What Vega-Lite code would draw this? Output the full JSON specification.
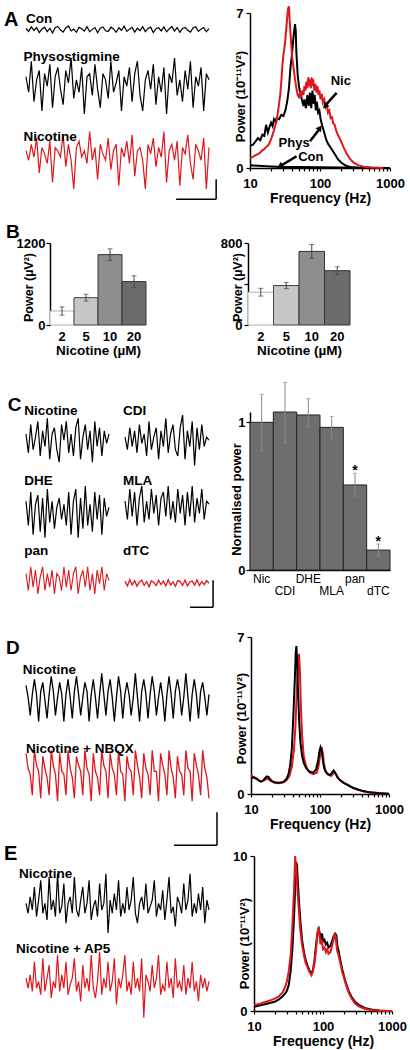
{
"$schema":"https://vega.github.io/schema/vega-lite/v6.json",
"background":"white",
"autosize":{"type":"pad"},
"padding":{"left":3,"top":2,"right":2,"bottom":2},
"config":{
 "view":{"stroke":null},
 "font":"Liberation Sans",
 "text":{"font":"Liberation Sans","color":"#000"},
 "axis":{"domainColor":"#000","domainWidth":1.5,"tickColor":"#000","tickWidth":1.2,"labelColor":"#000","titleColor":"#000","labelFont":"Liberation Sans","titleFont":"Liberation Sans","labelFontWeight":"bold","titleFontWeight":"bold","labelFontSize":13,"titleFontSize":13,"grid":false,"labelOverlap":false}
},
"datasets":{
"tr":[
{"s":"a0","i":0,"v":0.5},{"s":"a0","i":1,"v":-0.8},{"s":"a0","i":2,"v":1.2},{"s":"a0","i":3,"v":-0.4},{"s":"a0","i":4,"v":0.9},{"s":"a0","i":5,"v":-1.3},{"s":"a0","i":6,"v":0.3},{"s":"a0","i":7,"v":1.1},{"s":"a0","i":8,"v":-0.9},{"s":"a0","i":9,"v":0.6},
{"s":"a0","i":10,"v":-1.5},{"s":"a0","i":11,"v":0.8},{"s":"a0","i":12,"v":1.4},{"s":"a0","i":13,"v":-0.2},{"s":"a0","i":14,"v":-1.1},{"s":"a0","i":15,"v":0.7},{"s":"a0","i":16,"v":1.6},{"s":"a0","i":17,"v":-0.6},{"s":"a0","i":18,"v":0.2},{"s":"a0","i":19,"v":-1.2},
{"s":"a0","i":20,"v":1.0},{"s":"a0","i":21,"v":0.4},{"s":"a0","i":22,"v":-0.7},{"s":"a0","i":23,"v":1.3},{"s":"a0","i":24,"v":-1.0},{"s":"a0","i":25,"v":0.1},{"s":"a0","i":26,"v":0.9},{"s":"a0","i":27,"v":-1.4},{"s":"a0","i":28,"v":0.6},{"s":"a0","i":29,"v":1.2},
{"s":"a0","i":30,"v":-0.5},{"s":"a0","i":31,"v":-0.9},{"s":"a0","i":32,"v":1.1},{"s":"a0","i":33,"v":0.3},{"s":"a0","i":34,"v":-1.2},{"s":"a0","i":35,"v":0.8},{"s":"a0","i":36,"v":-0.3},{"s":"a0","i":37,"v":1.5},{"s":"a0","i":38,"v":-0.8},{"s":"a0","i":39,"v":0.2},
{"s":"a0","i":40,"v":1.0},{"s":"a0","i":41,"v":-1.1},{"s":"a0","i":42,"v":0.6},{"s":"a0","i":43,"v":-0.4},{"s":"a0","i":44,"v":1.3},{"s":"a0","i":45,"v":-0.9},{"s":"a0","i":46,"v":0.5},{"s":"a0","i":47,"v":1.1},{"s":"a0","i":48,"v":-1.3},{"s":"a0","i":49,"v":0.4},
{"s":"a0","i":50,"v":0.8},{"s":"a0","i":51,"v":-0.6},{"s":"a0","i":52,"v":1.2},{"s":"a0","i":53,"v":-1.0},{"s":"a0","i":54,"v":0.3},{"s":"a0","i":55,"v":1.4},{"s":"a0","i":56,"v":-0.7},{"s":"a0","i":57,"v":0.9},{"s":"a0","i":58,"v":-1.2},{"s":"a0","i":59,"v":0.5},
{"s":"a0","i":60,"v":1.0},{"s":"a0","i":61,"v":-0.3},{"s":"a0","i":62,"v":-1.1},{"s":"a0","i":63,"v":0.7},{"s":"a0","i":64,"v":1.3},{"s":"a0","i":65,"v":-0.8},{"s":"a0","i":66,"v":0.2},{"s":"a0","i":67,"v":0.9},{"s":"a0","i":68,"v":-1.0},{"s":"a0","i":69,"v":0.4},
{"s":"a1","i":0,"v":2},{"s":"a1","i":1,"v":-3},{"s":"a1","i":2,"v":7},{"s":"a1","i":3,"v":-6},{"s":"a1","i":4,"v":1},{"s":"a1","i":5,"v":4},{"s":"a1","i":6,"v":-9},{"s":"a1","i":7,"v":3},{"s":"a1","i":8,"v":-1},{"s":"a1","i":9,"v":6},
{"s":"a1","i":10,"v":-8},{"s":"a1","i":11,"v":2},{"s":"a1","i":12,"v":5},{"s":"a1","i":13,"v":-2},{"s":"a1","i":14,"v":-7},{"s":"a1","i":15,"v":4},{"s":"a1","i":16,"v":0},{"s":"a1","i":17,"v":8},{"s":"a1","i":18,"v":-5},{"s":"a1","i":19,"v":1},
{"s":"a1","i":20,"v":-3},{"s":"a1","i":21,"v":5},{"s":"a1","i":22,"v":-10},{"s":"a1","i":23,"v":2},{"s":"a1","i":24,"v":3},{"s":"a1","i":25,"v":-4},{"s":"a1","i":26,"v":6},{"s":"a1","i":27,"v":-2},{"s":"a1","i":28,"v":-8},{"s":"a1","i":29,"v":3},
{"s":"a1","i":30,"v":1},{"s":"a1","i":31,"v":-5},{"s":"a1","i":32,"v":7},{"s":"a1","i":33,"v":-3},{"s":"a1","i":34,"v":0},{"s":"a1","i":35,"v":4},{"s":"a1","i":36,"v":-9},{"s":"a1","i":37,"v":2},{"s":"a1","i":38,"v":-1},{"s":"a1","i":39,"v":5},
{"s":"a1","i":40,"v":-6},{"s":"a1","i":41,"v":3},{"s":"a1","i":42,"v":7},{"s":"a1","i":43,"v":-4},{"s":"a1","i":44,"v":-9},{"s":"a1","i":45,"v":1},{"s":"a1","i":46,"v":4},{"s":"a1","i":47,"v":-2},{"s":"a1","i":48,"v":6},{"s":"a1","i":49,"v":-7},
{"s":"a1","i":50,"v":2},{"s":"a1","i":51,"v":-3},{"s":"a1","i":52,"v":5},{"s":"a1","i":53,"v":-10},{"s":"a1","i":54,"v":3},{"s":"a1","i":55,"v":0},{"s":"a1","i":56,"v":8},{"s":"a1","i":57,"v":-4},{"s":"a1","i":58,"v":1},{"s":"a1","i":59,"v":-6},
{"s":"a1","i":60,"v":4},{"s":"a1","i":61,"v":-2},{"s":"a1","i":62,"v":7},{"s":"a1","i":63,"v":-8},{"s":"a1","i":64,"v":2},{"s":"a1","i":65,"v":-1},{"s":"a1","i":66,"v":5},{"s":"a1","i":67,"v":-9},{"s":"a1","i":68,"v":3},{"s":"a1","i":69,"v":1},
{"s":"a2","i":0,"v":1},{"s":"a2","i":1,"v":-2},{"s":"a2","i":2,"v":3},{"s":"a2","i":3,"v":-1},{"s":"a2","i":4,"v":5},{"s":"a2","i":5,"v":-6},{"s":"a2","i":6,"v":2},{"s":"a2","i":7,"v":0},{"s":"a2","i":8,"v":-3},{"s":"a2","i":9,"v":4},
{"s":"a2","i":10,"v":-9},{"s":"a2","i":11,"v":2},{"s":"a2","i":12,"v":1},{"s":"a2","i":13,"v":-1},{"s":"a2","i":14,"v":6},{"s":"a2","i":15,"v":-4},{"s":"a2","i":16,"v":3},{"s":"a2","i":17,"v":-2},{"s":"a2","i":18,"v":-11},{"s":"a2","i":19,"v":2},
{"s":"a2","i":20,"v":4},{"s":"a2","i":21,"v":-1},{"s":"a2","i":22,"v":1},{"s":"a2","i":23,"v":-3},{"s":"a2","i":24,"v":7},{"s":"a2","i":25,"v":-2},{"s":"a2","i":26,"v":2},{"s":"a2","i":27,"v":-8},{"s":"a2","i":28,"v":3},{"s":"a2","i":29,"v":0},
{"s":"a2","i":30,"v":-2},{"s":"a2","i":31,"v":5},{"s":"a2","i":32,"v":-5},{"s":"a2","i":33,"v":1},{"s":"a2","i":34,"v":3},{"s":"a2","i":35,"v":-10},{"s":"a2","i":36,"v":2},{"s":"a2","i":37,"v":-1},{"s":"a2","i":38,"v":4},{"s":"a2","i":39,"v":-3},
{"s":"a2","i":40,"v":6},{"s":"a2","i":41,"v":-7},{"s":"a2","i":42,"v":1},{"s":"a2","i":43,"v":2},{"s":"a2","i":44,"v":-2},{"s":"a2","i":45,"v":-11},{"s":"a2","i":46,"v":3},{"s":"a2","i":47,"v":0},{"s":"a2","i":48,"v":5},{"s":"a2","i":49,"v":-4},
{"s":"a2","i":50,"v":2},{"s":"a2","i":51,"v":-1},{"s":"a2","i":52,"v":7},{"s":"a2","i":53,"v":-9},{"s":"a2","i":54,"v":1},{"s":"a2","i":55,"v":3},{"s":"a2","i":56,"v":-2},{"s":"a2","i":57,"v":4},{"s":"a2","i":58,"v":-10},{"s":"a2","i":59,"v":2},
{"s":"a2","i":60,"v":0},{"s":"a2","i":61,"v":6},{"s":"a2","i":62,"v":-3},{"s":"a2","i":63,"v":-8},{"s":"a2","i":64,"v":3},{"s":"a2","i":65,"v":1},{"s":"a2","i":66,"v":-2},{"s":"a2","i":67,"v":5},{"s":"a2","i":68,"v":-11},{"s":"a2","i":69,"v":2},
{"s":"c0","i":0,"v":2},{"s":"c0","i":1,"v":-4},{"s":"c0","i":2,"v":5},{"s":"c0","i":3,"v":-3},{"s":"c0","i":4,"v":1},{"s":"c0","i":5,"v":6},{"s":"c0","i":6,"v":-5},{"s":"c0","i":7,"v":3},{"s":"c0","i":8,"v":-2},{"s":"c0","i":9,"v":7},
{"s":"c0","i":10,"v":-6},{"s":"c0","i":11,"v":2},{"s":"c0","i":12,"v":4},{"s":"c0","i":13,"v":-3},{"s":"c0","i":14,"v":-7},{"s":"c0","i":15,"v":5},{"s":"c0","i":16,"v":0},{"s":"c0","i":17,"v":6},{"s":"c0","i":18,"v":-4},{"s":"c0","i":19,"v":2},
{"s":"c0","i":20,"v":-5},{"s":"c0","i":21,"v":4},{"s":"c0","i":22,"v":7},{"s":"c0","i":23,"v":-6},{"s":"c0","i":24,"v":1},{"s":"c0","i":25,"v":5},{"s":"c0","i":26,"v":-3},{"s":"c0","i":27,"v":3},{"s":"c0","i":28,"v":-7},{"s":"c0","i":29,"v":6},
{"s":"c0","i":30,"v":-2},{"s":"c0","i":31,"v":4},{"s":"c0","i":32,"v":-5},{"s":"c0","i":33,"v":3},{"s":"c0","i":34,"v":-1},{"s":"c0","i":35,"v":2},
{"s":"c1","i":0,"v":1},{"s":"c1","i":1,"v":-3},{"s":"c1","i":2,"v":4},{"s":"c1","i":3,"v":-2},{"s":"c1","i":4,"v":3},{"s":"c1","i":5,"v":-4},{"s":"c1","i":6,"v":5},{"s":"c1","i":7,"v":-1},{"s":"c1","i":8,"v":2},{"s":"c1","i":9,"v":-5},
{"s":"c1","i":10,"v":6},{"s":"c1","i":11,"v":-3},{"s":"c1","i":12,"v":1},{"s":"c1","i":13,"v":4},{"s":"c1","i":14,"v":-6},{"s":"c1","i":15,"v":3},{"s":"c1","i":16,"v":-2},{"s":"c1","i":17,"v":7},{"s":"c1","i":18,"v":-4},{"s":"c1","i":19,"v":2},
{"s":"c1","i":20,"v":5},{"s":"c1","i":21,"v":-3},{"s":"c1","i":22,"v":-5},{"s":"c1","i":23,"v":4},{"s":"c1","i":24,"v":8},{"s":"c1","i":25,"v":-6},{"s":"c1","i":26,"v":3},{"s":"c1","i":27,"v":-2},{"s":"c1","i":28,"v":6},{"s":"c1","i":29,"v":-8},
{"s":"c1","i":30,"v":4},{"s":"c1","i":31,"v":-3},{"s":"c1","i":32,"v":5},{"s":"c1","i":33,"v":-2},{"s":"c1","i":34,"v":1},{"s":"c1","i":35,"v":0},
{"s":"c2","i":0,"v":3},{"s":"c2","i":1,"v":-5},{"s":"c2","i":2,"v":6},{"s":"c2","i":3,"v":-8},{"s":"c2","i":4,"v":2},{"s":"c2","i":5,"v":5},{"s":"c2","i":6,"v":-7},{"s":"c2","i":7,"v":4},{"s":"c2","i":8,"v":-9},{"s":"c2","i":9,"v":7},
{"s":"c2","i":10,"v":-4},{"s":"c2","i":11,"v":3},{"s":"c2","i":12,"v":-6},{"s":"c2","i":13,"v":1},{"s":"c2","i":14,"v":4},{"s":"c2","i":15,"v":-3},{"s":"c2","i":16,"v":2},{"s":"c2","i":17,"v":-5},{"s":"c2","i":18,"v":6},{"s":"c2","i":19,"v":-8},
{"s":"c2","i":20,"v":3},{"s":"c2","i":21,"v":7},{"s":"c2","i":22,"v":-9},{"s":"c2","i":23,"v":4},{"s":"c2","i":24,"v":-6},{"s":"c2","i":25,"v":8},{"s":"c2","i":26,"v":-5},{"s":"c2","i":27,"v":2},{"s":"c2","i":28,"v":-7},{"s":"c2","i":29,"v":6},
{"s":"c2","i":30,"v":-3},{"s":"c2","i":31,"v":5},{"s":"c2","i":32,"v":-8},{"s":"c2","i":33,"v":4},{"s":"c2","i":34,"v":-2},{"s":"c2","i":35,"v":1},
{"s":"c3","i":0,"v":2},{"s":"c3","i":1,"v":-4},{"s":"c3","i":2,"v":6},{"s":"c3","i":3,"v":-3},{"s":"c3","i":4,"v":5},{"s":"c3","i":5,"v":-6},{"s":"c3","i":6,"v":3},{"s":"c3","i":7,"v":7},{"s":"c3","i":8,"v":-5},{"s":"c3","i":9,"v":2},
{"s":"c3","i":10,"v":-4},{"s":"c3","i":11,"v":6},{"s":"c3","i":12,"v":-2},{"s":"c3","i":13,"v":4},{"s":"c3","i":14,"v":-6},{"s":"c3","i":15,"v":3},{"s":"c3","i":16,"v":5},{"s":"c3","i":17,"v":-3},{"s":"c3","i":18,"v":7},{"s":"c3","i":19,"v":-4},
{"s":"c3","i":20,"v":2},{"s":"c3","i":21,"v":-5},{"s":"c3","i":22,"v":6},{"s":"c3","i":23,"v":-2},{"s":"c3","i":24,"v":4},{"s":"c3","i":25,"v":-6},{"s":"c3","i":26,"v":5},{"s":"c3","i":27,"v":-3},{"s":"c3","i":28,"v":7},{"s":"c3","i":29,"v":-5},
{"s":"c3","i":30,"v":3},{"s":"c3","i":31,"v":-2},{"s":"c3","i":32,"v":6},{"s":"c3","i":33,"v":-4},{"s":"c3","i":34,"v":2},{"s":"c3","i":35,"v":1},
{"s":"c4","i":0,"v":2},{"s":"c4","i":1,"v":-3},{"s":"c4","i":2,"v":4},{"s":"c4","i":3,"v":-2},{"s":"c4","i":4,"v":3},{"s":"c4","i":5,"v":-4},{"s":"c4","i":6,"v":1},{"s":"c4","i":7,"v":4},{"s":"c4","i":8,"v":-3},{"s":"c4","i":9,"v":2},
{"s":"c4","i":10,"v":-2},{"s":"c4","i":11,"v":3},{"s":"c4","i":12,"v":-4},{"s":"c4","i":13,"v":2},{"s":"c4","i":14,"v":1},{"s":"c4","i":15,"v":-3},{"s":"c4","i":16,"v":4},{"s":"c4","i":17,"v":-2},{"s":"c4","i":18,"v":3},{"s":"c4","i":19,"v":-3},
{"s":"c4","i":20,"v":2},{"s":"c4","i":21,"v":4},{"s":"c4","i":22,"v":-4},{"s":"c4","i":23,"v":1},{"s":"c4","i":24,"v":3},{"s":"c4","i":25,"v":-2},{"s":"c4","i":26,"v":4},{"s":"c4","i":27,"v":-3},{"s":"c4","i":28,"v":2},{"s":"c4","i":29,"v":-4},
{"s":"c4","i":30,"v":3},{"s":"c4","i":31,"v":-1},{"s":"c4","i":32,"v":4},{"s":"c4","i":33,"v":-3},{"s":"c4","i":34,"v":2},{"s":"c4","i":35,"v":0},
{"s":"c5","i":0,"v":0.5},{"s":"c5","i":1,"v":-0.6},{"s":"c5","i":2,"v":0.8},{"s":"c5","i":3,"v":-0.4},{"s":"c5","i":4,"v":0.6},{"s":"c5","i":5,"v":-0.7},{"s":"c5","i":6,"v":0.3},{"s":"c5","i":7,"v":0.7},{"s":"c5","i":8,"v":-0.5},{"s":"c5","i":9,"v":0.4},
{"s":"c5","i":10,"v":-0.8},{"s":"c5","i":11,"v":0.6},{"s":"c5","i":12,"v":0.2},{"s":"c5","i":13,"v":-0.5},{"s":"c5","i":14,"v":0.7},{"s":"c5","i":15,"v":-0.3},{"s":"c5","i":16,"v":0.5},{"s":"c5","i":17,"v":-0.6},{"s":"c5","i":18,"v":0.8},{"s":"c5","i":19,"v":-0.4},
{"s":"c5","i":20,"v":0.3},{"s":"c5","i":21,"v":-0.7},{"s":"c5","i":22,"v":0.6},{"s":"c5","i":23,"v":0.4},{"s":"c5","i":24,"v":-0.5},{"s":"c5","i":25,"v":0.7},{"s":"c5","i":26,"v":-0.6},{"s":"c5","i":27,"v":0.3},{"s":"c5","i":28,"v":0.5},{"s":"c5","i":29,"v":-0.4},
{"s":"c5","i":30,"v":0.8},{"s":"c5","i":31,"v":-0.5},{"s":"c5","i":32,"v":0.4},{"s":"c5","i":33,"v":-0.3},{"s":"c5","i":34,"v":0.6},{"s":"c5","i":35,"v":0},
{"s":"d0","i":0,"v":4},{"s":"d0","i":1,"v":0},{"s":"d0","i":2,"v":-6},{"s":"d0","i":3,"v":1},{"s":"d0","i":4,"v":6},{"s":"d0","i":5,"v":1},{"s":"d0","i":6,"v":-8},{"s":"d0","i":7,"v":2},{"s":"d0","i":8,"v":5},{"s":"d0","i":9,"v":-1},
{"s":"d0","i":10,"v":-7},{"s":"d0","i":11,"v":1},{"s":"d0","i":12,"v":7},{"s":"d0","i":13,"v":2},{"s":"d0","i":14,"v":-6},{"s":"d0","i":15,"v":0},{"s":"d0","i":16,"v":5},{"s":"d0","i":17,"v":1},{"s":"d0","i":18,"v":-8},{"s":"d0","i":19,"v":1},
{"s":"d0","i":20,"v":6},{"s":"d0","i":21,"v":0},{"s":"d0","i":22,"v":-7},{"s":"d0","i":23,"v":2},{"s":"d0","i":24,"v":7},{"s":"d0","i":25,"v":1},{"s":"d0","i":26,"v":-6},{"s":"d0","i":27,"v":0},{"s":"d0","i":28,"v":5},{"s":"d0","i":29,"v":2},
{"s":"d0","i":30,"v":-8},{"s":"d0","i":31,"v":1},{"s":"d0","i":32,"v":6},{"s":"d0","i":33,"v":0},{"s":"d0","i":34,"v":-7},{"s":"d0","i":35,"v":1},{"s":"d0","i":36,"v":8},{"s":"d0","i":37,"v":1},{"s":"d0","i":38,"v":-6},{"s":"d0","i":39,"v":2},
{"s":"d0","i":40,"v":6},{"s":"d0","i":41,"v":0},{"s":"d0","i":42,"v":-8},{"s":"d0","i":43,"v":0},{"s":"d0","i":44,"v":7},{"s":"d0","i":45,"v":2},{"s":"d0","i":46,"v":-7},{"s":"d0","i":47,"v":1},{"s":"d0","i":48,"v":5},{"s":"d0","i":49,"v":1},
{"s":"d0","i":50,"v":-6},{"s":"d0","i":51,"v":0},{"s":"d0","i":52,"v":8},{"s":"d0","i":53,"v":0},{"s":"d0","i":54,"v":-8},{"s":"d0","i":55,"v":2},{"s":"d0","i":56,"v":6},{"s":"d0","i":57,"v":1},{"s":"d0","i":58,"v":-7},{"s":"d0","i":59,"v":1},
{"s":"d0","i":60,"v":7},{"s":"d0","i":61,"v":2},{"s":"d0","i":62,"v":-6},{"s":"d0","i":63,"v":0},{"s":"d0","i":64,"v":5},{"s":"d0","i":65,"v":0},{"s":"d0","i":66,"v":-8},{"s":"d0","i":67,"v":1},{"s":"d0","i":68,"v":7},{"s":"d0","i":69,"v":1},
{"s":"d0","i":70,"v":-7},{"s":"d0","i":71,"v":2},{"s":"d0","i":72,"v":6},{"s":"d0","i":73,"v":2},{"s":"d0","i":74,"v":-6},{"s":"d0","i":75,"v":0},{"s":"d0","i":76,"v":8},{"s":"d0","i":77,"v":0},{"s":"d0","i":78,"v":-8},{"s":"d0","i":79,"v":1},
{"s":"d0","i":80,"v":6},{"s":"d0","i":81,"v":1},{"s":"d0","i":82,"v":-7},{"s":"d0","i":83,"v":2},{"s":"d0","i":84,"v":5},{"s":"d0","i":85,"v":0},{"s":"d0","i":86,"v":-6},{"s":"d0","i":87,"v":1},
{"s":"d1","i":0,"v":7},{"s":"d1","i":1,"v":2},{"s":"d1","i":2,"v":0},{"s":"d1","i":3,"v":-7},{"s":"d1","i":4,"v":8},{"s":"d1","i":5,"v":3},{"s":"d1","i":6,"v":1},{"s":"d1","i":7,"v":-8},{"s":"d1","i":8,"v":6},{"s":"d1","i":9,"v":2},
{"s":"d1","i":10,"v":-1},{"s":"d1","i":11,"v":-7},{"s":"d1","i":12,"v":8},{"s":"d1","i":13,"v":3},{"s":"d1","i":14,"v":0},{"s":"d1","i":15,"v":-9},{"s":"d1","i":16,"v":7},{"s":"d1","i":17,"v":1},{"s":"d1","i":18,"v":0},{"s":"d1","i":19,"v":-7},
{"s":"d1","i":20,"v":8},{"s":"d1","i":21,"v":2},{"s":"d1","i":22,"v":-1},{"s":"d1","i":23,"v":-8},{"s":"d1","i":24,"v":6},{"s":"d1","i":25,"v":3},{"s":"d1","i":26,"v":1},{"s":"d1","i":27,"v":-7},{"s":"d1","i":28,"v":8},{"s":"d1","i":29,"v":2},
{"s":"d1","i":30,"v":0},{"s":"d1","i":31,"v":-9},{"s":"d1","i":32,"v":7},{"s":"d1","i":33,"v":1},{"s":"d1","i":34,"v":-1},{"s":"d1","i":35,"v":-7},{"s":"d1","i":36,"v":8},{"s":"d1","i":37,"v":3},{"s":"d1","i":38,"v":1},{"s":"d1","i":39,"v":-8},
{"s":"d1","i":40,"v":7},{"s":"d1","i":41,"v":2},{"s":"d1","i":42,"v":0},{"s":"d1","i":43,"v":-7},{"s":"d1","i":44,"v":8},{"s":"d1","i":45,"v":1},{"s":"d1","i":46,"v":0},{"s":"d1","i":47,"v":-9},{"s":"d1","i":48,"v":6},{"s":"d1","i":49,"v":2},
{"s":"d1","i":50,"v":1},{"s":"d1","i":51,"v":-7},{"s":"d1","i":52,"v":8},{"s":"d1","i":53,"v":3},{"s":"d1","i":54,"v":-1},{"s":"d1","i":55,"v":-8},{"s":"d1","i":56,"v":7},{"s":"d1","i":57,"v":2},{"s":"d1","i":58,"v":0},{"s":"d1","i":59,"v":-7},
{"s":"d1","i":60,"v":8},{"s":"d1","i":61,"v":1},{"s":"d1","i":62,"v":1},{"s":"d1","i":63,"v":-9},{"s":"d1","i":64,"v":7},{"s":"d1","i":65,"v":3},{"s":"d1","i":66,"v":0},{"s":"d1","i":67,"v":-7},{"s":"d1","i":68,"v":8},{"s":"d1","i":69,"v":2},
{"s":"d1","i":70,"v":-1},{"s":"d1","i":71,"v":-8},{"s":"d1","i":72,"v":6},{"s":"d1","i":73,"v":1},{"s":"d1","i":74,"v":0},{"s":"d1","i":75,"v":-7},{"s":"d1","i":76,"v":8},{"s":"d1","i":77,"v":2},{"s":"d1","i":78,"v":1},{"s":"d1","i":79,"v":-9},
{"s":"d1","i":80,"v":7},{"s":"d1","i":81,"v":3},{"s":"d1","i":82,"v":0},{"s":"d1","i":83,"v":-7},{"s":"d1","i":84,"v":8},{"s":"d1","i":85,"v":2},{"s":"d1","i":86,"v":-1},{"s":"d1","i":87,"v":-8},
{"s":"e0","i":0,"v":1},{"s":"e0","i":1,"v":-2},{"s":"e0","i":2,"v":3},{"s":"e0","i":3,"v":-1},{"s":"e0","i":4,"v":6},{"s":"e0","i":5,"v":-3},{"s":"e0","i":6,"v":2},{"s":"e0","i":7,"v":8},{"s":"e0","i":8,"v":-2},{"s":"e0","i":9,"v":1},
{"s":"e0","i":10,"v":-4},{"s":"e0","i":11,"v":9},{"s":"e0","i":12,"v":-1},{"s":"e0","i":13,"v":2},{"s":"e0","i":14,"v":-3},{"s":"e0","i":15,"v":10},{"s":"e0","i":16,"v":-2},{"s":"e0","i":17,"v":0},{"s":"e0","i":18,"v":7},{"s":"e0","i":19,"v":-5},
{"s":"e0","i":20,"v":1},{"s":"e0","i":21,"v":3},{"s":"e0","i":22,"v":-2},{"s":"e0","i":23,"v":9},{"s":"e0","i":24,"v":-1},{"s":"e0","i":25,"v":-3},{"s":"e0","i":26,"v":2},{"s":"e0","i":27,"v":6},{"s":"e0","i":28,"v":-2},{"s":"e0","i":29,"v":1},
{"s":"e0","i":30,"v":8},{"s":"e0","i":31,"v":-4},{"s":"e0","i":32,"v":0},{"s":"e0","i":33,"v":2},{"s":"e0","i":34,"v":-3},{"s":"e0","i":35,"v":7},{"s":"e0","i":36,"v":-1},{"s":"e0","i":37,"v":1},{"s":"e0","i":38,"v":10},{"s":"e0","i":39,"v":-8},
{"s":"e0","i":40,"v":2},{"s":"e0","i":41,"v":-2},{"s":"e0","i":42,"v":4},{"s":"e0","i":43,"v":-1},{"s":"e0","i":44,"v":8},{"s":"e0","i":45,"v":-3},{"s":"e0","i":46,"v":1},{"s":"e0","i":47,"v":-2},{"s":"e0","i":48,"v":6},{"s":"e0","i":49,"v":-1},
{"s":"e0","i":50,"v":2},{"s":"e0","i":51,"v":9},{"s":"e0","i":52,"v":-2},{"s":"e0","i":53,"v":-5},{"s":"e0","i":54,"v":1},{"s":"e0","i":55,"v":3},{"s":"e0","i":56,"v":-1},{"s":"e0","i":57,"v":7},{"s":"e0","i":58,"v":-2},{"s":"e0","i":59,"v":0},
{"s":"e0","i":60,"v":2},{"s":"e0","i":61,"v":8},{"s":"e0","i":62,"v":-3},{"s":"e0","i":63,"v":1},{"s":"e0","i":64,"v":-1},{"s":"e0","i":65,"v":5},{"s":"e0","i":66,"v":-4},{"s":"e0","i":67,"v":2},{"s":"e0","i":68,"v":9},{"s":"e0","i":69,"v":-2},
{"s":"e0","i":70,"v":0},{"s":"e0","i":71,"v":-6},{"s":"e0","i":72,"v":3},{"s":"e0","i":73,"v":1},{"s":"e0","i":74,"v":-2},{"s":"e0","i":75,"v":7},{"s":"e0","i":76,"v":-1},{"s":"e0","i":77,"v":2},{"s":"e0","i":78,"v":10},{"s":"e0","i":79,"v":-3},
{"s":"e0","i":80,"v":1},{"s":"e0","i":81,"v":-2},{"s":"e0","i":82,"v":4},{"s":"e0","i":83,"v":-1},{"s":"e0","i":84,"v":6},{"s":"e0","i":85,"v":-5},{"s":"e0","i":86,"v":2},{"s":"e0","i":87,"v":-1},
{"s":"e1","i":0,"v":2},{"s":"e1","i":1,"v":-1},{"s":"e1","i":2,"v":3},{"s":"e1","i":3,"v":-2},{"s":"e1","i":4,"v":7},{"s":"e1","i":5,"v":-1},{"s":"e1","i":6,"v":1},{"s":"e1","i":7,"v":-3},{"s":"e1","i":8,"v":8},{"s":"e1","i":9,"v":-2},
{"s":"e1","i":10,"v":2},{"s":"e1","i":11,"v":6},{"s":"e1","i":12,"v":-4},{"s":"e1","i":13,"v":1},{"s":"e1","i":14,"v":-1},{"s":"e1","i":15,"v":9},{"s":"e1","i":16,"v":-2},{"s":"e1","i":17,"v":3},{"s":"e1","i":18,"v":-1},{"s":"e1","i":19,"v":7},
{"s":"e1","i":20,"v":-3},{"s":"e1","i":21,"v":0},{"s":"e1","i":22,"v":2},{"s":"e1","i":23,"v":8},{"s":"e1","i":24,"v":-2},{"s":"e1","i":25,"v":1},{"s":"e1","i":26,"v":-5},{"s":"e1","i":27,"v":6},{"s":"e1","i":28,"v":-1},{"s":"e1","i":29,"v":2},
{"s":"e1","i":30,"v":-2},{"s":"e1","i":31,"v":9},{"s":"e1","i":32,"v":-1},{"s":"e1","i":33,"v":-4},{"s":"e1","i":34,"v":1},{"s":"e1","i":35,"v":10},{"s":"e1","i":36,"v":-3},{"s":"e1","i":37,"v":2},{"s":"e1","i":38,"v":-1},{"s":"e1","i":39,"v":7},
{"s":"e1","i":40,"v":-2},{"s":"e1","i":41,"v":1},{"s":"e1","i":42,"v":8},{"s":"e1","i":43,"v":-6},{"s":"e1","i":44,"v":2},{"s":"e1","i":45,"v":-1},{"s":"e1","i":46,"v":3},{"s":"e1","i":47,"v":9},{"s":"e1","i":48,"v":-2},{"s":"e1","i":49,"v":1},
{"s":"e1","i":50,"v":-3},{"s":"e1","i":51,"v":7},{"s":"e1","i":52,"v":-1},{"s":"e1","i":53,"v":2},{"s":"e1","i":54,"v":-2},{"s":"e1","i":55,"v":8},{"s":"e1","i":56,"v":-10},{"s":"e1","i":57,"v":3},{"s":"e1","i":58,"v":1},{"s":"e1","i":59,"v":-2},
{"s":"e1","i":60,"v":6},{"s":"e1","i":61,"v":-1},{"s":"e1","i":62,"v":2},{"s":"e1","i":63,"v":9},{"s":"e1","i":64,"v":-3},{"s":"e1","i":65,"v":0},{"s":"e1","i":66,"v":-2},{"s":"e1","i":67,"v":7},{"s":"e1","i":68,"v":-1},{"s":"e1","i":69,"v":2},
{"s":"e1","i":70,"v":-4},{"s":"e1","i":71,"v":8},{"s":"e1","i":72,"v":-1},{"s":"e1","i":73,"v":1},{"s":"e1","i":74,"v":-2},{"s":"e1","i":75,"v":6},{"s":"e1","i":76,"v":-3},{"s":"e1","i":77,"v":2},{"s":"e1","i":78,"v":-1},{"s":"e1","i":79,"v":7},
{"s":"e1","i":80,"v":-2},{"s":"e1","i":81,"v":1},{"s":"e1","i":82,"v":-5},{"s":"e1","i":83,"v":3},{"s":"e1","i":84,"v":-1},{"s":"e1","i":85,"v":2},{"s":"e1","i":86,"v":-2},{"s":"e1","i":87,"v":1}
],
"sp":[
{"s":"ac","f":10,"p":0.12},{"s":"ac","f":13,"p":0.1},{"s":"ac","f":20,"p":0.07},{"s":"ac","f":30,"p":0.05},{"s":"ac","f":50,"p":0.04},{"s":"ac","f":100,"p":0.03},{"s":"ac","f":200,"p":0.02},{"s":"ac","f":400,"p":0.01},{"s":"ac","f":1000,"p":0},
{"s":"ap","f":10,"p":1.0},{"s":"ap","f":11,"p":1.05},{"s":"ap","f":12,"p":1.2},{"s":"ap","f":13,"p":1.35},{"s":"ap","f":14,"p":1.25},{"s":"ap","f":15,"p":1.5},{"s":"ap","f":16,"p":1.45},{"s":"ap","f":17,"p":1.95},{"s":"ap","f":18,"p":1.6},{"s":"ap","f":19,"p":1.85},
{"s":"ap","f":20,"p":2.05},{"s":"ap","f":21,"p":1.9},{"s":"ap","f":22,"p":2.2},{"s":"ap","f":23,"p":2.1},{"s":"ap","f":24,"p":2.25},{"s":"ap","f":26,"p":2.2},{"s":"ap","f":28,"p":2.4},{"s":"ap","f":30,"p":2.35},{"s":"ap","f":32,"p":2.6},{"s":"ap","f":34,"p":3.0},
{"s":"ap","f":36,"p":3.6},{"s":"ap","f":38,"p":4.6},{"s":"ap","f":40,"p":5.2},{"s":"ap","f":42,"p":6.0},{"s":"ap","f":44,"p":6.5},{"s":"ap","f":45,"p":6.2},{"s":"ap","f":46,"p":5.2},{"s":"ap","f":48,"p":4.2},{"s":"ap","f":50,"p":3.7},{"s":"ap","f":52,"p":3.4},
{"s":"ap","f":55,"p":3.1},{"s":"ap","f":58,"p":2.8},{"s":"ap","f":60,"p":3.1},{"s":"ap","f":63,"p":2.7},{"s":"ap","f":66,"p":3.3},{"s":"ap","f":69,"p":2.8},{"s":"ap","f":72,"p":3.4},{"s":"ap","f":75,"p":2.7},{"s":"ap","f":78,"p":3.5},{"s":"ap","f":81,"p":2.9},
{"s":"ap","f":84,"p":3.3},{"s":"ap","f":87,"p":2.6},{"s":"ap","f":90,"p":3.0},{"s":"ap","f":94,"p":2.5},{"s":"ap","f":98,"p":2.6},{"s":"ap","f":102,"p":2.2},{"s":"ap","f":108,"p":1.9},{"s":"ap","f":115,"p":1.6},{"s":"ap","f":122,"p":1.3},{"s":"ap","f":130,"p":1.1},
{"s":"ap","f":140,"p":0.95},{"s":"ap","f":150,"p":0.8},{"s":"ap","f":165,"p":0.6},{"s":"ap","f":180,"p":0.4},{"s":"ap","f":200,"p":0.25},{"s":"ap","f":230,"p":0.12},{"s":"ap","f":270,"p":0.05},{"s":"ap","f":350,"p":0.01},{"s":"ap","f":500,"p":0},
{"s":"an","f":10,"p":0.45},{"s":"an","f":11,"p":0.5},{"s":"an","f":12,"p":0.58},{"s":"an","f":13,"p":0.63},{"s":"an","f":14,"p":0.7},{"s":"an","f":15,"p":0.8},{"s":"an","f":16,"p":0.85},{"s":"an","f":17,"p":0.95},{"s":"an","f":18,"p":1.0},{"s":"an","f":19,"p":1.13},
{"s":"an","f":20,"p":1.3},{"s":"an","f":21,"p":1.5},{"s":"an","f":22,"p":1.7},{"s":"an","f":23,"p":1.95},{"s":"an","f":24,"p":2.1},{"s":"an","f":25,"p":2.5},{"s":"an","f":26,"p":2.9},{"s":"an","f":27,"p":3.3},{"s":"an","f":28,"p":3.9},{"s":"an","f":29,"p":4.6},
{"s":"an","f":30,"p":5.1},{"s":"an","f":31,"p":5.4},{"s":"an","f":32,"p":5.8},{"s":"an","f":33,"p":6.3},{"s":"an","f":34,"p":6.8},{"s":"an","f":35,"p":7.2},{"s":"an","f":36,"p":7.3},{"s":"an","f":37,"p":6.6},{"s":"an","f":38,"p":6.0},{"s":"an","f":39,"p":5.5},
{"s":"an","f":40,"p":5.0},{"s":"an","f":42,"p":4.5},{"s":"an","f":44,"p":4.0},{"s":"an","f":46,"p":3.6},{"s":"an","f":48,"p":3.3},{"s":"an","f":50,"p":3.2},{"s":"an","f":52,"p":3.4},{"s":"an","f":54,"p":3.2},{"s":"an","f":56,"p":3.5},{"s":"an","f":58,"p":3.3},
{"s":"an","f":60,"p":3.7},{"s":"an","f":62,"p":3.5},{"s":"an","f":64,"p":3.9},{"s":"an","f":66,"p":3.6},{"s":"an","f":68,"p":4.1},{"s":"an","f":70,"p":3.7},{"s":"an","f":72,"p":4.0},{"s":"an","f":74,"p":3.6},{"s":"an","f":76,"p":4.1},{"s":"an","f":78,"p":3.7},
{"s":"an","f":80,"p":4.0},{"s":"an","f":83,"p":3.5},{"s":"an","f":86,"p":3.8},{"s":"an","f":89,"p":3.4},{"s":"an","f":92,"p":3.7},{"s":"an","f":95,"p":3.3},{"s":"an","f":98,"p":3.5},{"s":"an","f":102,"p":3.1},{"s":"an","f":106,"p":3.35},{"s":"an","f":110,"p":2.95},
{"s":"an","f":115,"p":3.1},{"s":"an","f":120,"p":2.75},{"s":"an","f":125,"p":2.9},{"s":"an","f":130,"p":2.5},{"s":"an","f":136,"p":2.6},{"s":"an","f":142,"p":2.25},{"s":"an","f":148,"p":2.3},{"s":"an","f":155,"p":2.0},{"s":"an","f":162,"p":1.95},{"s":"an","f":170,"p":1.7},
{"s":"an","f":180,"p":1.5},{"s":"an","f":190,"p":1.35},{"s":"an","f":200,"p":1.2},{"s":"an","f":220,"p":0.9},{"s":"an","f":240,"p":0.65},{"s":"an","f":270,"p":0.4},{"s":"an","f":300,"p":0.25},{"s":"an","f":350,"p":0.13},{"s":"an","f":420,"p":0.06},{"s":"an","f":550,"p":0.02},{"s":"an","f":800,"p":0},
{"s":"dn","f":10,"p":0.7},{"s":"dn","f":11,"p":0.75},{"s":"dn","f":12,"p":0.7},{"s":"dn","f":13,"p":0.6},{"s":"dn","f":14,"p":0.55},{"s":"dn","f":15,"p":0.6},{"s":"dn","f":16,"p":0.7},{"s":"dn","f":17,"p":0.78},{"s":"dn","f":18,"p":0.75},{"s":"dn","f":19,"p":0.65},
{"s":"dn","f":20,"p":0.58},{"s":"dn","f":22,"p":0.52},{"s":"dn","f":25,"p":0.5},{"s":"dn","f":28,"p":0.52},{"s":"dn","f":30,"p":0.55},{"s":"dn","f":33,"p":0.7},{"s":"dn","f":35,"p":0.9},{"s":"dn","f":37,"p":1.3},{"s":"dn","f":39,"p":2.0},{"s":"dn","f":41,"p":3.4},
{"s":"dn","f":43,"p":5.0},{"s":"dn","f":44.5,"p":6.3},{"s":"dn","f":45.5,"p":6.6},{"s":"dn","f":46.5,"p":6.0},{"s":"dn","f":48,"p":4.6},{"s":"dn","f":50,"p":3.2},{"s":"dn","f":52,"p":2.3},{"s":"dn","f":55,"p":1.7},{"s":"dn","f":58,"p":1.4},{"s":"dn","f":63,"p":1.15},
{"s":"dn","f":70,"p":1.0},{"s":"dn","f":80,"p":0.95},{"s":"dn","f":88,"p":1.1},{"s":"dn","f":94,"p":1.5},{"s":"dn","f":98,"p":1.9},{"s":"dn","f":102,"p":2.1},{"s":"dn","f":105,"p":2.0},{"s":"dn","f":109,"p":1.6},{"s":"dn","f":114,"p":1.2},{"s":"dn","f":120,"p":1.0},
{"s":"dn","f":130,"p":0.88},{"s":"dn","f":140,"p":0.85},{"s":"dn","f":150,"p":0.95},{"s":"dn","f":158,"p":1.05},{"s":"dn","f":166,"p":0.95},{"s":"dn","f":178,"p":0.75},{"s":"dn","f":195,"p":0.62},{"s":"dn","f":220,"p":0.5},{"s":"dn","f":260,"p":0.38},{"s":"dn","f":300,"p":0.28},
{"s":"dn","f":400,"p":0.15},{"s":"dn","f":500,"p":0.09},{"s":"dn","f":700,"p":0.04},{"s":"dn","f":1000,"p":0.01},
{"s":"dq","f":10,"p":0.85},{"s":"dq","f":11,"p":0.72},{"s":"dq","f":12,"p":0.66},{"s":"dq","f":14,"p":0.55},{"s":"dq","f":16,"p":0.63},{"s":"dq","f":17,"p":0.7},{"s":"dq","f":19,"p":0.6},{"s":"dq","f":22,"p":0.5},{"s":"dq","f":25,"p":0.48},{"s":"dq","f":28,"p":0.5},
{"s":"dq","f":30,"p":0.53},{"s":"dq","f":33,"p":0.62},{"s":"dq","f":36,"p":0.8},{"s":"dq","f":39,"p":1.2},{"s":"dq","f":42,"p":2.0},{"s":"dq","f":44,"p":3.0},{"s":"dq","f":46,"p":4.5},{"s":"dq","f":48,"p":5.8},{"s":"dq","f":49.5,"p":6.25},{"s":"dq","f":51,"p":5.6},
{"s":"dq","f":53,"p":3.8},{"s":"dq","f":55,"p":2.6},{"s":"dq","f":58,"p":1.7},{"s":"dq","f":62,"p":1.3},{"s":"dq","f":66,"p":1.1},{"s":"dq","f":72,"p":0.95},{"s":"dq","f":80,"p":0.88},{"s":"dq","f":90,"p":0.95},{"s":"dq","f":96,"p":1.3},{"s":"dq","f":100,"p":1.7},
{"s":"dq","f":104,"p":1.95},{"s":"dq","f":107,"p":2.0},{"s":"dq","f":110,"p":1.8},{"s":"dq","f":114,"p":1.35},{"s":"dq","f":120,"p":1.05},{"s":"dq","f":130,"p":0.88},{"s":"dq","f":145,"p":0.8},{"s":"dq","f":155,"p":0.9},{"s":"dq","f":163,"p":0.97},{"s":"dq","f":172,"p":0.88},
{"s":"dq","f":186,"p":0.68},{"s":"dq","f":205,"p":0.56},{"s":"dq","f":235,"p":0.45},{"s":"dq","f":270,"p":0.34},{"s":"dq","f":330,"p":0.22},{"s":"dq","f":430,"p":0.11},{"s":"dq","f":550,"p":0.06},{"s":"dq","f":750,"p":0.02},{"s":"dq","f":1000,"p":0.01},
{"s":"en","f":10,"p":0.28},{"s":"en","f":12,"p":0.35},{"s":"en","f":15,"p":0.45},{"s":"en","f":18,"p":0.55},{"s":"en","f":20,"p":0.6},{"s":"en","f":23,"p":0.75},{"s":"en","f":26,"p":0.95},{"s":"en","f":28,"p":1.1},{"s":"en","f":30,"p":1.3},{"s":"en","f":32,"p":1.7},
{"s":"en","f":34,"p":2.6},{"s":"en","f":36,"p":4.0},{"s":"en","f":38,"p":6.0},{"s":"en","f":40,"p":8.5},{"s":"en","f":41,"p":9.6},{"s":"en","f":42,"p":9.4},{"s":"en","f":43,"p":8.5},{"s":"en","f":45,"p":7.0},{"s":"en","f":47,"p":5.8},{"s":"en","f":50,"p":4.5},
{"s":"en","f":53,"p":3.8},{"s":"en","f":56,"p":3.3},{"s":"en","f":60,"p":2.9},{"s":"en","f":64,"p":2.6},{"s":"en","f":68,"p":2.4},{"s":"en","f":71,"p":2.6},{"s":"en","f":75,"p":3.2},{"s":"en","f":79,"p":4.2},{"s":"en","f":83,"p":5.0},{"s":"en","f":87,"p":5.3},
{"s":"en","f":90,"p":5.0},{"s":"en","f":94,"p":4.6},{"s":"en","f":97,"p":5.0},{"s":"en","f":100,"p":4.5},{"s":"en","f":105,"p":4.6},{"s":"en","f":110,"p":4.3},{"s":"en","f":115,"p":4.4},{"s":"en","f":120,"p":4.1},{"s":"en","f":128,"p":4.2},{"s":"en","f":135,"p":4.5},
{"s":"en","f":142,"p":4.8},{"s":"en","f":150,"p":5.0},{"s":"en","f":156,"p":4.9},{"s":"en","f":162,"p":4.2},{"s":"en","f":170,"p":3.8},{"s":"en","f":178,"p":3.3},{"s":"en","f":190,"p":2.7},{"s":"en","f":200,"p":2.3},{"s":"en","f":215,"p":1.8},{"s":"en","f":235,"p":1.3},
{"s":"en","f":260,"p":0.9},{"s":"en","f":290,"p":0.6},{"s":"en","f":330,"p":0.4},{"s":"en","f":400,"p":0.2},{"s":"en","f":500,"p":0.1},{"s":"en","f":650,"p":0.04},{"s":"en","f":800,"p":0.01},{"s":"en","f":1000,"p":0},
{"s":"eq","f":10,"p":0.4},{"s":"eq","f":12,"p":0.45},{"s":"eq","f":15,"p":0.6},{"s":"eq","f":18,"p":0.72},{"s":"eq","f":20,"p":0.8},{"s":"eq","f":23,"p":0.95},{"s":"eq","f":26,"p":1.2},{"s":"eq","f":28,"p":1.5},{"s":"eq","f":30,"p":1.9},{"s":"eq","f":32,"p":2.6},
{"s":"eq","f":34,"p":3.6},{"s":"eq","f":36,"p":5.5},{"s":"eq","f":38,"p":7.8},{"s":"eq","f":39.5,"p":10.0},{"s":"eq","f":41,"p":9.0},{"s":"eq","f":43,"p":7.6},{"s":"eq","f":45,"p":6.3},{"s":"eq","f":47,"p":5.2},{"s":"eq","f":50,"p":4.2},{"s":"eq","f":53,"p":3.6},
{"s":"eq","f":56,"p":3.1},{"s":"eq","f":60,"p":2.8},{"s":"eq","f":64,"p":2.5},{"s":"eq","f":68,"p":2.3},{"s":"eq","f":71,"p":2.5},{"s":"eq","f":75,"p":3.0},{"s":"eq","f":79,"p":3.9},{"s":"eq","f":83,"p":5.0},{"s":"eq","f":86,"p":5.4},{"s":"eq","f":89,"p":4.9},
{"s":"eq","f":92,"p":4.3},{"s":"eq","f":96,"p":4.6},{"s":"eq","f":100,"p":4.0},{"s":"eq","f":105,"p":4.1},{"s":"eq","f":110,"p":3.8},{"s":"eq","f":115,"p":4.0},{"s":"eq","f":120,"p":3.7},{"s":"eq","f":128,"p":3.8},{"s":"eq","f":135,"p":4.2},{"s":"eq","f":142,"p":4.6},
{"s":"eq","f":148,"p":5.0},{"s":"eq","f":153,"p":4.7},{"s":"eq","f":160,"p":3.9},{"s":"eq","f":168,"p":3.6},{"s":"eq","f":176,"p":3.2},{"s":"eq","f":188,"p":2.6},{"s":"eq","f":200,"p":2.2},{"s":"eq","f":215,"p":1.7},{"s":"eq","f":235,"p":1.2},{"s":"eq","f":260,"p":0.8},
{"s":"eq","f":290,"p":0.5},{"s":"eq","f":330,"p":0.3},{"s":"eq","f":400,"p":0.15},{"s":"eq","f":500,"p":0.07},{"s":"eq","f":650,"p":0.02},{"s":"eq","f":800,"p":0},{"s":"eq","f":1000,"p":0}
],
"bl":[{"c":"2","m":205,"lo":145,"hi":265},{"c":"5","m":400,"lo":350,"hi":450},{"c":"10","m":1030,"lo":945,"hi":1115},{"c":"20","m":635,"lo":550,"hi":720}],
"br":[{"c":"2","m":320,"lo":282,"hi":358},{"c":"5","m":385,"lo":355,"hi":415},{"c":"10","m":718,"lo":650,"hi":785},{"c":"20","m":530,"lo":492,"hi":568}],
"cb":[{"c":"Nic","m":1.0,"lo":0.81,"hi":1.19,"sig":""},{"c":"CDI","m":1.07,"lo":0.86,"hi":1.27,"sig":""},{"c":"DHE","m":1.05,"lo":0.97,"hi":1.16,"sig":""},{"c":"MLA","m":0.966,"lo":0.89,"hi":1.04,"sig":""},{"c":"pan","m":0.576,"lo":0.5,"hi":0.655,"sig":"*"},{"c":"dTC","m":0.135,"lo":0.095,"hi":0.176,"sig":"*"}]
},
"spacing":18,
"vconcat":[
{"hconcat":[
  {"vconcat":[
    {"width":183,"height":24,"layer":[
      {"data":{"name":"tr"},"transform":[{"filter":"datum.s == 'a0'"}],"mark":{"type":"line","color":"#000","strokeWidth":1.2},
       "encoding":{"x":{"field":"i","type":"quantitative","scale":{"domain":[0,69],"nice":false,"zero":false},"axis":null},"y":{"field":"v","type":"quantitative","scale":{"domain":[-3.3,7.4],"nice":false,"zero":false},"axis":null}}},
      {"data":{"values":[{}]},"mark":{"type":"text","text":"Con","fontSize":13.5,"fontWeight":"bold","align":"left"},"encoding":{"x":{"datum":0,"axis":null},"y":{"datum":4.9,"axis":null}}},
      {"data":{"values":[{}]},"mark":{"type":"text","text":"A","fontSize":20,"fontWeight":"bold","align":"left"},"encoding":{"x":{"datum":-8.3,"axis":null},"y":{"datum":4.45,"axis":null}}}
    ]},
    {"width":183,"height":77,"layer":[
      {"data":{"name":"tr"},"transform":[{"filter":"datum.s == 'a1'"}],"mark":{"type":"line","color":"#000","strokeWidth":1.2},
       "encoding":{"x":{"field":"i","type":"quantitative","scale":{"domain":[0,69],"nice":false,"zero":false},"axis":null},"y":{"field":"v","type":"quantitative","scale":{"domain":[-10,14.8],"nice":false,"zero":false},"axis":null}}},
      {"data":{"values":[{}]},"mark":{"type":"text","text":"Physostigmine","fontSize":13.5,"fontWeight":"bold","align":"left"},"encoding":{"x":{"datum":-0.9,"axis":null},"y":{"datum":8.26,"axis":null}}}
    ]},
    {"width":183,"height":83,"layer":[
      {"data":{"name":"tr"},"transform":[{"filter":"datum.s == 'a2'"}],"mark":{"type":"line","color":"#e0161c","strokeWidth":1.2},
       "encoding":{"x":{"field":"i","type":"quantitative","scale":{"domain":[0,69],"nice":false,"zero":false},"axis":null},"y":{"field":"v","type":"quantitative","scale":{"domain":[-14.5,11.6],"nice":false,"zero":false},"axis":null}}},
      {"data":{"values":[{}]},"mark":{"type":"text","text":"Nicotine","fontSize":13.5,"fontWeight":"bold","align":"left"},"encoding":{"x":{"datum":-0.9,"axis":null},"y":{"datum":5.44,"axis":null}}},
      {"data":{"values":[{}]},"mark":{"type":"rule","color":"#000","strokeWidth":1.5},"encoding":{"x":{"datum":56.6,"axis":null},"x2":{"datum":71.7},"y":{"datum":-14.28,"axis":null}}},
      {"data":{"values":[{}]},"mark":{"type":"rule","color":"#000","strokeWidth":1.5},"encoding":{"x":{"datum":71.7,"axis":null},"y":{"datum":-8.0,"axis":null},"y2":{"datum":-14.28}}}
    ]}
  ],"spacing":0},
  {"width":140,"height":155,"layer":[
    {"data":{"name":"sp"},"transform":[{"filter":"datum.s == 'ac'"}],"mark":{"type":"line","color":"#000","strokeWidth":2},
     "encoding":{"x":{"field":"f","type":"quantitative","scale":{"type":"log","domain":[10,1000]},"axis":{"title":"Frequency (Hz)","titleFontSize":14,"values":[10,20,30,40,50,60,70,80,90,100,200,300,400,500,600,700,800,900,1000],"labelExpr":"datum.value == 10 ? '10' : datum.value == 100 ? '100' : datum.value == 1000 ? '1000' : ''","tickSize":3,"labelPadding":6,"titlePadding":1,"labelFlush":false}},
                 "y":{"field":"p","type":"quantitative","scale":{"domain":[0,7],"nice":false},"axis":{"title":"Power (10⁻¹¹V²)","values":[0,7],"tickSize":4,"labelPadding":3,"titleX":-3,"titleY":83}}}},
    {"data":{"name":"sp"},"transform":[{"filter":"datum.s == 'ap'"}],"mark":{"type":"line","color":"#000","strokeWidth":2},
     "encoding":{"x":{"field":"f","type":"quantitative"},"y":{"field":"p","type":"quantitative"}}},
    {"data":{"name":"sp"},"transform":[{"filter":"datum.s == 'an'"}],"mark":{"type":"line","color":"#e0161c","strokeWidth":2},
     "encoding":{"x":{"field":"f","type":"quantitative"},"y":{"field":"p","type":"quantitative"}}},
    {"data":{"values":[{}]},"mark":{"type":"text","text":"Nic","fontSize":13,"fontWeight":"bold","align":"center","baseline":"middle"},"encoding":{"x":{"datum":198},"y":{"datum":3.92}}},
    {"data":{"values":[{}]},"mark":{"type":"text","text":"Phys","fontSize":13,"fontWeight":"bold","align":"center","baseline":"middle"},"encoding":{"x":{"datum":42.7},"y":{"datum":1.12}}},
    {"data":{"values":[{}]},"mark":{"type":"text","text":"Con","fontSize":13,"fontWeight":"bold","align":"center","baseline":"middle"},"encoding":{"x":{"datum":74},"y":{"datum":0.5}}},
    {"data":{"values":[{}]},"mark":{"type":"rule","color":"#000","strokeWidth":2.5},"encoding":{"x":{"datum":172.7},"y":{"datum":3.39},"x2":{"datum":122},"y2":{"datum":2.86}}},
    {"data":{"values":[{}]},"mark":{"type":"point","shape":"triangle-up","filled":true,"color":"#000","size":45,"angle":221,"opacity":1},"encoding":{"x":{"datum":117.9},"y":{"datum":2.79}}},
    {"data":{"values":[{}]},"mark":{"type":"rule","color":"#000","strokeWidth":2.5},"encoding":{"x":{"datum":71.9},"y":{"datum":1.21},"x2":{"datum":96},"y2":{"datum":1.72}}},
    {"data":{"values":[{}]},"mark":{"type":"point","shape":"triangle-up","filled":true,"color":"#000","size":45,"angle":37,"opacity":1},"encoding":{"x":{"datum":100},"y":{"datum":1.81}}},
    {"data":{"values":[{}]},"mark":{"type":"rule","color":"#000","strokeWidth":2.5},"encoding":{"x":{"datum":46.3},"y":{"datum":0.53},"x2":{"datum":28.5},"y2":{"datum":0.13}}},
    {"data":{"values":[{}]},"mark":{"type":"point","shape":"triangle-up","filled":true,"color":"#000","size":45,"angle":239,"opacity":1},"encoding":{"x":{"datum":26.8},"y":{"datum":0.08}}}
  ]}
 ],"spacing":17},
{"vconcat":[
  {"hconcat":[
    {"width":120,"height":82,"layer":[
      {"data":{"name":"bl"},"mark":{"type":"bar","strokeWidth":1},
       "encoding":{"x":{"field":"c","type":"ordinal","sort":["2","5","10","20"],"scale":{"domain":["2","5","10","20"],"paddingInner":0,"paddingOuter":0.5,"align":1},"axis":{"title":"Nicotine (µM)","titleFontSize":13.5,"domain":false,"ticks":false,"labelAngle":0,"labelPadding":5,"titlePadding":0,"titleX":72}},
                   "y":{"field":"m","type":"quantitative","scale":{"domain":[0,1200],"nice":false},"axis":{"title":"Power (µV²)","titleFontSize":12.5,"values":[0,200,400,600,800,1000,1200],"labelExpr":"datum.value == 0 ? '0' : datum.value == 1200 ? '1200' : ''","offset":-24,"tickSize":4,"labelPadding":1,"titleX":-15,"titleY":44}},
                   "fill":{"field":"c","type":"ordinal","scale":{"domain":["2","5","10","20"],"range":["#ffffff","#c6c6c6","#8e8e8e","#6c6c6c"]},"legend":null},
                   "stroke":{"field":"c","type":"ordinal","scale":{"domain":["2","5","10","20"],"range":["#b0b0b0","#444444","#333333","#333333"]},"legend":null}}},
      {"data":{"name":"bl"},"mark":{"type":"errorbar","ticks":{"size":5,"color":"#444"},"rule":{"color":"#444"}},
       "encoding":{"x":{"field":"c","type":"ordinal","sort":["2","5","10","20"],"title":"Nicotine (µM)"},"y":{"field":"lo","type":"quantitative","title":"Power (µV²)"},"y2":{"field":"hi"}}},
      {"data":{"values":[{}]},"mark":{"type":"text","text":"B","fontSize":19,"fontWeight":"bold","align":"left","dx":-44},"encoding":{"x":{"datum":"2","bandPosition":0},"y":{"datum":1360}}}
    ]},
    {"width":102,"height":82,"layer":[
      {"data":{"name":"br"},"mark":{"type":"bar","strokeWidth":1},
       "encoding":{"x":{"field":"c","type":"ordinal","sort":["2","5","10","20"],"scale":{"domain":["2","5","10","20"],"paddingInner":0,"paddingOuter":0},"axis":{"title":"Nicotine (µM)","titleFontSize":13.5,"domain":false,"ticks":false,"labelAngle":0,"labelPadding":5,"titlePadding":0}},
                   "y":{"field":"m","type":"quantitative","scale":{"domain":[0,800],"nice":false},"axis":{"title":"Power (µV²)","titleFontSize":12.5,"values":[0,100,200,300,400,500,600,700,800],"labelExpr":"datum.value == 0 ? '0' : datum.value == 800 ? '800' : ''","tickSize":4,"labelPadding":2,"titleX":-4,"titleY":44}},
                   "fill":{"field":"c","type":"ordinal","scale":{"domain":["2","5","10","20"],"range":["#ffffff","#c6c6c6","#8e8e8e","#6c6c6c"]},"legend":null},
                   "stroke":{"field":"c","type":"ordinal","scale":{"domain":["2","5","10","20"],"range":["#b0b0b0","#444444","#333333","#333333"]},"legend":null}}},
      {"data":{"name":"br"},"mark":{"type":"errorbar","ticks":{"size":5,"color":"#444"},"rule":{"color":"#444"}},
       "encoding":{"x":{"field":"c","type":"ordinal","sort":["2","5","10","20"],"title":"Nicotine (µM)"},"y":{"field":"lo","type":"quantitative","title":"Power (µV²)"},"y2":{"field":"hi"}}}
    ]}
  ],"spacing":73},
  {"vconcat":[
    {"hconcat":[
      {"vconcat":[
        {"hconcat":[
          {"width":83,"height":54,"layer":[
            {"data":{"name":"tr"},"transform":[{"filter":"datum.s == 'c0'"}],"mark":{"type":"line","color":"#000","strokeWidth":1.2},
             "encoding":{"x":{"field":"i","type":"quantitative","scale":{"domain":[0,35],"nice":false,"zero":false},"axis":null},"y":{"field":"v","type":"quantitative","scale":{"domain":[-8.2,9.0],"nice":false,"zero":false},"axis":null}}},
            {"data":{"values":[{}]},"mark":{"type":"text","text":"Nicotine","fontSize":13.5,"fontWeight":"bold","align":"left"},"encoding":{"x":{"datum":-0.7,"axis":null},"y":{"datum":9.4,"axis":null}}},
            {"data":{"values":[{}]},"mark":{"type":"text","text":"C","fontSize":19,"fontWeight":"bold","align":"left"},"encoding":{"x":{"datum":-7.7,"axis":null},"y":{"datum":11.1,"axis":null}}}
          ]},
          {"width":84,"height":54,"layer":[
            {"data":{"name":"tr"},"transform":[{"filter":"datum.s == 'c1'"}],"mark":{"type":"line","color":"#000","strokeWidth":1.2},
             "encoding":{"x":{"field":"i","type":"quantitative","scale":{"domain":[0,35],"nice":false,"zero":false},"axis":null},"y":{"field":"v","type":"quantitative","scale":{"domain":[-8.2,9.0],"nice":false,"zero":false},"axis":null}}},
            {"data":{"values":[{}]},"mark":{"type":"text","text":"CDI","fontSize":13.5,"fontWeight":"bold","align":"left"},"encoding":{"x":{"datum":-0.8,"axis":null},"y":{"datum":9.4,"axis":null}}}
          ]}
        ],"spacing":10},
        {"hconcat":[
          {"width":83,"height":74,"layer":[
            {"data":{"name":"tr"},"transform":[{"filter":"datum.s == 'c2'"}],"mark":{"type":"line","color":"#000","strokeWidth":1.2},
             "encoding":{"x":{"field":"i","type":"quantitative","scale":{"domain":[0,35],"nice":false,"zero":false},"axis":null},"y":{"field":"v","type":"quantitative","scale":{"domain":[-10.4,13.9],"nice":false,"zero":false},"axis":null}}},
            {"data":{"values":[{}]},"mark":{"type":"text","text":"DHE","fontSize":13.5,"fontWeight":"bold","align":"left"},"encoding":{"x":{"datum":-0.7,"axis":null},"y":{"datum":9.5,"axis":null}}}
          ]},
          {"width":84,"height":74,"layer":[
            {"data":{"name":"tr"},"transform":[{"filter":"datum.s == 'c3'"}],"mark":{"type":"line","color":"#000","strokeWidth":1.2},
             "encoding":{"x":{"field":"i","type":"quantitative","scale":{"domain":[0,35],"nice":false,"zero":false},"axis":null},"y":{"field":"v","type":"quantitative","scale":{"domain":[-11.4,12.9],"nice":false,"zero":false},"axis":null}}},
            {"data":{"values":[{}]},"mark":{"type":"text","text":"MLA","fontSize":13.5,"fontWeight":"bold","align":"left"},"encoding":{"x":{"datum":-0.8,"axis":null},"y":{"datum":8.5,"axis":null}}}
          ]}
        ],"spacing":10},
        {"hconcat":[
          {"width":83,"height":56,"layer":[
            {"data":{"name":"tr"},"transform":[{"filter":"datum.s == 'c4'"}],"mark":{"type":"line","color":"#e0161c","strokeWidth":1.1},
             "encoding":{"x":{"field":"i","type":"quantitative","scale":{"domain":[0,35],"nice":false,"zero":false},"axis":null},"y":{"field":"v","type":"quantitative","scale":{"domain":[-5.2,11.3],"nice":false,"zero":false},"axis":null}}},
            {"data":{"values":[{}]},"mark":{"type":"text","text":"pan","fontSize":13.5,"fontWeight":"bold","align":"left"},"encoding":{"x":{"datum":-0.7,"axis":null},"y":{"datum":8.6,"axis":null}}}
          ]},
          {"width":84,"height":56,"layer":[
            {"data":{"name":"tr"},"transform":[{"filter":"datum.s == 'c5'"}],"mark":{"type":"line","color":"#e0161c","strokeWidth":1.3},
             "encoding":{"x":{"field":"i","type":"quantitative","scale":{"domain":[0,35],"nice":false,"zero":false},"axis":null},"y":{"field":"v","type":"quantitative","scale":{"domain":[-3.35,9.4],"nice":false,"zero":false},"axis":null}}},
            {"data":{"values":[{}]},"mark":{"type":"text","text":"dTC","fontSize":13.5,"fontWeight":"bold","align":"left"},"encoding":{"x":{"datum":-0.8,"axis":null},"y":{"datum":7.3,"axis":null}}},
            {"data":{"values":[{}]},"mark":{"type":"rule","color":"#000","strokeWidth":1.5},"encoding":{"x":{"datum":27.1,"axis":null},"x2":{"datum":36.7},"y":{"datum":-5.46,"axis":null}}},
            {"data":{"values":[{}]},"mark":{"type":"rule","color":"#000","strokeWidth":1.5},"encoding":{"x":{"datum":36.7,"axis":null},"y":{"datum":0.7,"axis":null},"y2":{"datum":-5.46}}}
          ]}
        ],"spacing":10}
      ],"spacing":0},
      {"width":140,"height":158,"layer":[
        {"data":{"name":"cb"},"mark":{"type":"bar","fill":"#6e6e6e","stroke":"#222","strokeWidth":1},
         "encoding":{"x":{"field":"c","type":"ordinal","sort":["Nic","CDI","DHE","MLA","pan","dTC"],"scale":{"domain":["Nic","CDI","DHE","MLA","pan","dTC"],"paddingInner":0,"paddingOuter":0},"axis":{"title":null,"ticks":false,"labelAngle":0,"labelFontWeight":"normal","labelFontSize":12,"labelPadding":3,"labelLineHeight":12,"labelBaseline":"top","labelExpr":"indexof(['CDI','MLA','dTC'], datum.value) >= 0 ? ['', datum.value] : datum.value"}},
                     "y":{"field":"m","type":"quantitative","scale":{"domain":[0,1.07],"nice":false},"axis":{"title":"Normalised power","values":[0,1],"labelExpr":"datum.value == 0 ? '0' : '1'","tickSize":4,"labelPadding":1,"titleX":-7,"titleY":87}}}},
        {"data":{"name":"cb"},"mark":{"type":"errorbar","ticks":{"size":4,"color":"#8a8a8a"},"rule":{"color":"#8a8a8a"}},
         "encoding":{"x":{"field":"c","type":"ordinal","sort":["Nic","CDI","DHE","MLA","pan","dTC"],"title":null},"y":{"field":"lo","type":"quantitative","title":"Normalised power"},"y2":{"field":"hi"}}},
        {"data":{"name":"cb"},"mark":{"type":"text","fontSize":14,"fontWeight":"bold","baseline":"alphabetic","dy":2},
         "encoding":{"x":{"field":"c","type":"ordinal","sort":["Nic","CDI","DHE","MLA","pan","dTC"],"title":null},"y":{"field":"hi","type":"quantitative","title":"Normalised power"},"text":{"field":"sig"}}}
      ]}
    ],"spacing":16},
    {"vconcat":[
      {"hconcat":[
        {"vconcat":[
          {"width":183,"height":85,"layer":[
            {"data":{"name":"tr"},"transform":[{"filter":"datum.s == 'd0'"}],"mark":{"type":"line","color":"#000","strokeWidth":1.3},
             "encoding":{"x":{"field":"i","type":"quantitative","scale":{"domain":[0,87],"nice":false,"zero":false},"axis":null},"y":{"field":"v","type":"quantitative","scale":{"domain":[-8.2,20.1],"nice":false,"zero":false},"axis":null}}},
            {"data":{"values":[{}]},"mark":{"type":"text","text":"Nicotine","fontSize":13.5,"fontWeight":"bold","align":"left"},"encoding":{"x":{"datum":-1.6,"axis":null},"y":{"datum":9.0,"axis":null}}},
            {"data":{"values":[{}]},"mark":{"type":"text","text":"D","fontSize":19,"fontWeight":"bold","align":"left"},"encoding":{"x":{"datum":-9.5,"axis":null},"y":{"datum":16.3,"axis":null}}}
          ]},
          {"width":183,"height":88,"layer":[
            {"data":{"name":"tr"},"transform":[{"filter":"datum.s == 'd1'"}],"mark":{"type":"line","color":"#e0161c","strokeWidth":1.3},
             "encoding":{"x":{"field":"i","type":"quantitative","scale":{"domain":[0,87],"nice":false,"zero":false},"axis":null},"y":{"field":"v","type":"quantitative","scale":{"domain":[-12.6,16.8],"nice":false,"zero":false},"axis":null}}},
            {"data":{"values":[{}]},"mark":{"type":"text","text":"Nicotine + NBQX","fontSize":13.5,"fontWeight":"bold","align":"left"},"encoding":{"x":{"datum":0,"axis":null},"y":{"datum":8.4,"axis":null}}},
            {"data":{"values":[{}]},"mark":{"type":"rule","color":"#000","strokeWidth":1.5},"encoding":{"x":{"datum":70.4,"axis":null},"x2":{"datum":90.8},"y":{"datum":-23.7,"axis":null}}},
            {"data":{"values":[{}]},"mark":{"type":"rule","color":"#000","strokeWidth":1.5},"encoding":{"x":{"datum":90.8,"axis":null},"y":{"datum":-12.7,"axis":null},"y2":{"datum":-23.7}}}
          ]}
        ],"spacing":0},
        {"width":138,"height":157,"layer":[
          {"data":{"name":"sp"},"transform":[{"filter":"datum.s == 'dq'"}],"mark":{"type":"line","color":"#e0161c","strokeWidth":2},
           "encoding":{"x":{"field":"f","type":"quantitative","scale":{"type":"log","domain":[10,1000]},"axis":{"title":"Frequency (Hz)","titleFontSize":14,"values":[10,20,30,40,50,60,70,80,90,100,200,300,400,500,600,700,800,900,1000],"labelExpr":"datum.value == 10 ? '10' : datum.value == 100 ? '100' : datum.value == 1000 ? '1000' : ''","tickSize":3,"labelPadding":6,"titlePadding":1,"labelFlush":false}},
                       "y":{"field":"p","type":"quantitative","scale":{"domain":[0,7],"nice":false},"axis":{"title":"Power (10⁻¹¹V²)","values":[0,7],"tickSize":4,"labelPadding":3,"titleX":-3,"titleY":81}}}},
          {"data":{"name":"sp"},"transform":[{"filter":"datum.s == 'dn'"}],"mark":{"type":"line","color":"#000","strokeWidth":2},
           "encoding":{"x":{"field":"f","type":"quantitative"},"y":{"field":"p","type":"quantitative"}}}
        ]}
      ],"spacing":17},
      {"hconcat":[
        {"vconcat":[
          {"width":183,"height":79,"layer":[
            {"data":{"name":"tr"},"transform":[{"filter":"datum.s == 'e0'"}],"mark":{"type":"line","color":"#000","strokeWidth":1.2},
             "encoding":{"x":{"field":"i","type":"quantitative","scale":{"domain":[0,87],"nice":false,"zero":false},"axis":null},"y":{"field":"v","type":"quantitative","scale":{"domain":[-8.6,15.4],"nice":false,"zero":false},"axis":null}}},
            {"data":{"values":[{}]},"mark":{"type":"text","text":"Nicotine","fontSize":13.5,"fontWeight":"bold","align":"left"},"encoding":{"x":{"datum":-3.3,"axis":null},"y":{"datum":10.0,"axis":null}}},
            {"data":{"values":[{}]},"mark":{"type":"text","text":"E","fontSize":20,"fontWeight":"bold","align":"left"},"encoding":{"x":{"datum":-10.5,"axis":null},"y":{"datum":16.1,"axis":null}}}
          ]},
          {"width":183,"height":86,"layer":[
            {"data":{"name":"tr"},"transform":[{"filter":"datum.s == 'e1'"}],"mark":{"type":"line","color":"#e0161c","strokeWidth":1.2},
             "encoding":{"x":{"field":"i","type":"quantitative","scale":{"domain":[0,87],"nice":false,"zero":false},"axis":null},"y":{"field":"v","type":"quantitative","scale":{"domain":[-11.3,14.8],"nice":false,"zero":false},"axis":null}}},
            {"data":{"values":[{}]},"mark":{"type":"text","text":"Nicotine + AP5","fontSize":13.5,"fontWeight":"bold","align":"left"},"encoding":{"x":{"datum":-4.8,"axis":null},"y":{"datum":11.0,"axis":null}}}
          ]}
        ],"spacing":0},
        {"width":138,"height":155,"layer":[
          {"data":{"name":"sp"},"transform":[{"filter":"datum.s == 'en'"}],"mark":{"type":"line","color":"#000","strokeWidth":2},
           "encoding":{"x":{"field":"f","type":"quantitative","scale":{"type":"log","domain":[10,1000]},"axis":{"title":"Frequency (Hz)","titleFontSize":14,"values":[10,20,30,40,50,60,70,80,90,100,200,300,400,500,600,700,800,900,1000],"labelExpr":"datum.value == 10 ? '10' : datum.value == 100 ? '100' : datum.value == 1000 ? '1000' : ''","tickSize":3,"labelPadding":6,"titlePadding":1,"labelFlush":false}},
                       "y":{"field":"p","type":"quantitative","scale":{"domain":[0,10],"nice":false},"axis":{"title":"Power (10⁻¹¹V²)","values":[0,10],"tickSize":4,"labelPadding":3,"titleX":-3,"titleY":87}}}},
          {"data":{"name":"sp"},"transform":[{"filter":"datum.s == 'eq'"}],"mark":{"type":"line","color":"#e0161c","strokeWidth":2},
           "encoding":{"x":{"field":"f","type":"quantitative"},"y":{"field":"p","type":"quantitative"}}}
        ]}
      ],"spacing":20}
    ],"spacing":-3}
  ],"spacing":22}
],"spacing":16}
]
}
